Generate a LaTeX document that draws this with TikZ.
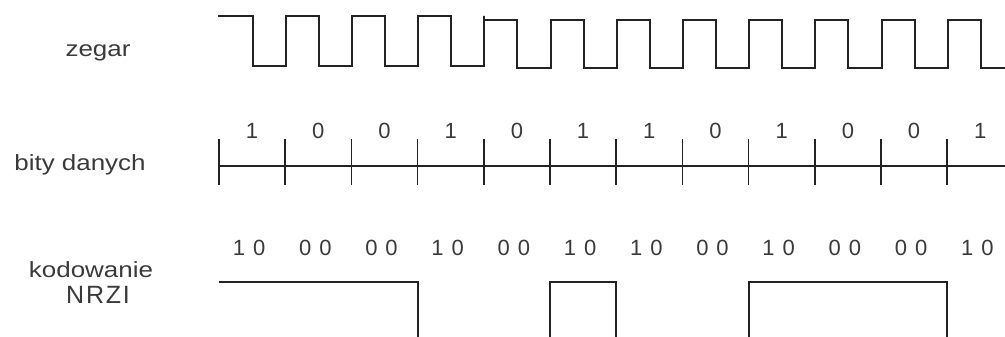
\documentclass[tikz,border=0pt]{standalone}
\usepackage{fontspec}
\setmainfont{Liberation Sans}
\newfontfamily\lblfont[FakeStretch=1.18]{Liberation Sans}
\newfontfamily\widefont[LetterSpace=7]{Liberation Sans}
\usetikzlibrary{positioning}
\definecolor{ink}{HTML}{222222}
\definecolor{graytext}{HTML}{3A3A3A}
\newcommand{\codepair}[2]{#1\hspace{8pt}#2}

\begin{document}
\begin{tikzpicture}[
    x=1pt, y=-1pt,
    wave/.style={draw=ink, line width=2pt},
    axis/.style={draw=ink, line width=1.6pt},
    rowlabel/.style={font=\lblfont\fontsize{22}{24}\selectfont, text=graytext, anchor=base, inner sep=0pt},
    bitlabel/.style={font=\fontsize{22}{24}\selectfont, text=graytext, anchor=base, inner sep=0pt}
]
\useasboundingbox (0,0) rectangle (1005,337);
\def\org{219}
\def\per{66.2}

% === Row labels ===
\node[rowlabel] (zegar) at (98,57) {zegar};
\node[rowlabel] (bity) at (80,170) {bity danych};
\node[rowlabel] (kod) at (91,277) {kodowanie};
\node[rowlabel, font=\widefont\fontsize{25}{27}\selectfont] (nrzi) at (98,303) {NRZI};

% === Clock ===
\draw[wave] (218,16)
    \foreach \k in {0,...,3} {
        -- ({252.5+\per*\k},16) -- ({252.5+\per*\k},66)
        -- ({285.7+\per*\k},66) -- ({285.7+\per*\k},16)
    }
    -- ({285.7+\per*3},20)
    \foreach \k in {4,...,10} {
        -- ({252.5+\per*\k},20) -- ({252.5+\per*\k},68)
        -- ({285.7+\per*\k},68) -- ({285.7+\per*\k},20)
    }
    -- ({252.5+\per*11},20) -- ({252.5+\per*11},68) -- (1005,68);

% === Data bits ===
\foreach \k in {0,...,11} {
    \coordinate (t\k) at ({\org+\per*\k},166);
    \coordinate (n\k) at ({\org+\per*\k},282);
    \draw[axis] ({\org+\per*\k},139) -- ({\org+\per*\k},185);
}
\draw[axis] (t0) -- (1005,166);

\foreach \b [count=\i from 0] in {1,0,0,1,0,1,1,0,1,0,0,1}
    \node[bitlabel] (b\i) at ({\org+\per*(\i+0.5)},139) {\b};

% === NRZI coding ===
\foreach \c/\d [count=\i from 0] in {1/0,0/0,0/0,1/0,0/0,1/0,1/0,0/0,1/0,0/0,0/0,1/0}
    \node[bitlabel] (c\i) at ({\org+\per*(\i+0.5)-3},255) {\codepair{\c}{\d}};

\draw[wave] (n0) -- (n3) -- ++(0,60);
\draw[wave] (n5) ++(0,60) -- (n5) -- (n6) -- ++(0,60);
\draw[wave] (n8) ++(0,60) -- (n8) -- (n11) -- ++(0,60);

\end{tikzpicture}
\end{document}
